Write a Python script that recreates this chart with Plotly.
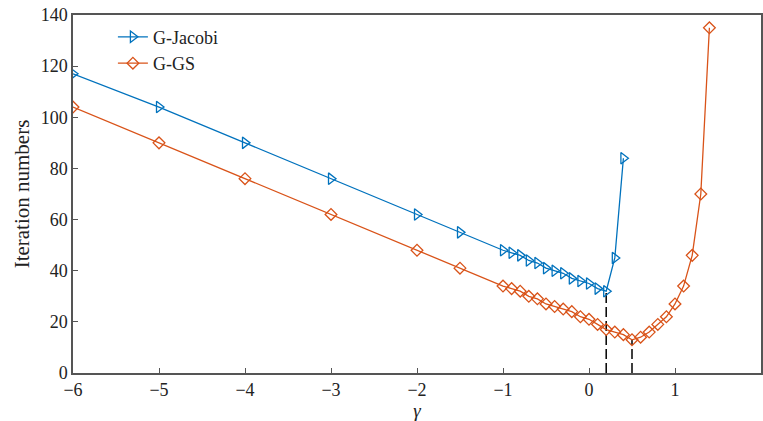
import plotly.graph_objects as go

gamma_jacobi = [-6, -5, -4, -3, -2, -1.5, -1, -0.9, -0.8, -0.7, -0.6, -0.5, -0.4, -0.3, -0.2, -0.1, 0, 0.1, 0.2, 0.3, 0.4]
iter_jacobi = [117, 104, 90, 76, 62, 55, 48, 47, 46, 44, 43, 41, 40, 39, 37, 36, 35, 33, 32, 45, 84]

gamma_gs = [-6, -5, -4, -3, -2, -1.5, -1, -0.9, -0.8, -0.7, -0.6, -0.5, -0.4, -0.3, -0.2, -0.1, 0, 0.1, 0.2, 0.3, 0.4, 0.5,
            0.6, 0.7, 0.8, 0.9, 1.0, 1.1, 1.2, 1.3, 1.4]
iter_gs = [104, 90, 76, 62, 48, 41, 34, 33, 32, 30, 29, 27, 26, 25, 24, 22, 21, 19, 17, 16, 15, 13,
           14, 16, 19, 22, 27, 34, 46, 70, 135]

x_ticks = [-6, -5, -4, -3, -2, -1, 0, 1, 2]
y_ticks = [0, 20, 40, 60, 80, 100, 120, 140]

BLUE = "#0072BD"
RED = "#D95319"
FONT = "Liberation Serif"

# optimum positions
j_min = min(range(len(iter_jacobi)), key=lambda i: iter_jacobi[i])
g_min = min(range(len(iter_gs)), key=lambda i: iter_gs[i])

fig = go.Figure()
for xs, ys in [(gamma_jacobi[j_min], iter_jacobi[j_min]), (gamma_gs[g_min], iter_gs[g_min])]:
    fig.add_trace(go.Scatter(x=[xs, xs], y=[0, ys], mode="lines",
                             line=dict(color="black", width=1.5, dash="10px,4px"),
                             showlegend=False, hoverinfo="skip"))

fig.add_trace(go.Scatter(x=gamma_jacobi, y=iter_jacobi, mode="lines+markers", name="G-Jacobi",
                         line=dict(color=BLUE, width=1.3),
                         marker=dict(symbol="triangle-right-open", size=10, color=BLUE,
                                     line=dict(width=1.3, color=BLUE))))
fig.add_trace(go.Scatter(x=gamma_gs, y=iter_gs, mode="lines+markers", name="G-GS",
                         line=dict(color=RED, width=1.3),
                         marker=dict(symbol="diamond-open", size=9, color=RED,
                                     line=dict(width=1.3, color=RED))))

axis_common = dict(showgrid=False, zeroline=False, showline=True, linecolor="#555555", linewidth=1.5,
                   ticks="inside", ticklen=5, tickwidth=1, tickcolor="#555555", mirror=True,
                   tickfont=dict(family=FONT, size=18, color="#222222"))

fig.update_xaxes(range=[-6, 2], tickvals=x_ticks, ticktext=["\u2212" + str(-v) if v < 0 else str(v) for v in x_ticks],
                 title=dict(text="<i>γ</i>", font=dict(family=FONT, size=19, color="#222222"), standoff=4),
                 **axis_common)
fig.update_yaxes(range=[0, 140], tickvals=y_ticks,
                 title=dict(text="Iteration numbers", font=dict(family=FONT, size=21, color="#222222"), standoff=5),
                 **axis_common)

fig.update_layout(width=763, height=421, margin=dict(l=73, r=0, t=15, b=48),
                  plot_bgcolor="white", paper_bgcolor="white",
                  font=dict(family=FONT, color="#222222"),
                  legend=dict(x=0.058, y=0.99, xanchor="left", yanchor="top",
                              bgcolor="rgba(0,0,0,0)", borderwidth=0,
                              font=dict(family=FONT, size=18, color="#222222"),
                              tracegroupgap=0, itemwidth=30))

fig.write_html("out.html")
